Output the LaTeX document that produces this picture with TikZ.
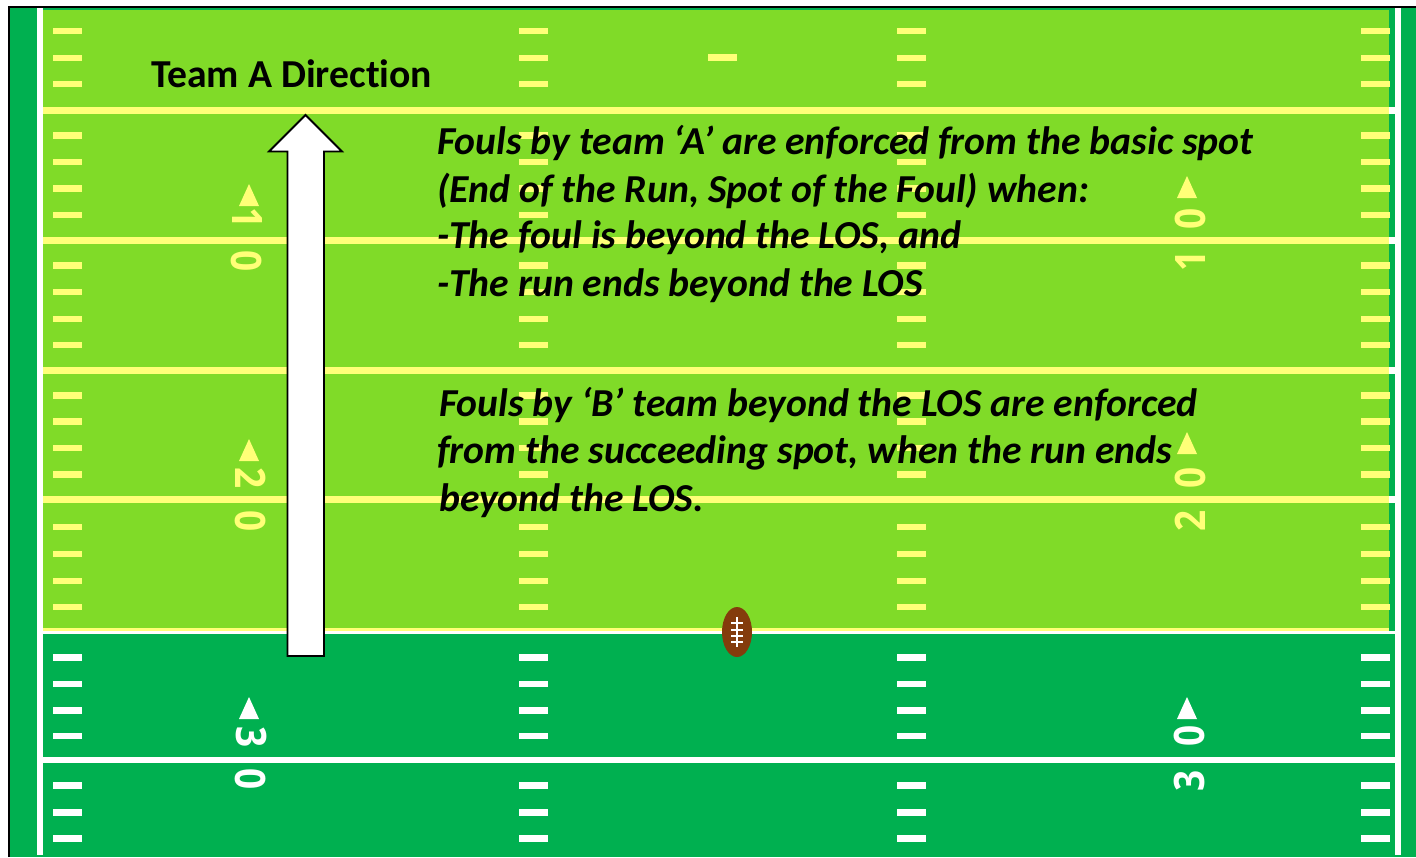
\documentclass[tikz,border=0pt]{standalone}
\usepackage{fontspec}
\setmainfont[Ligatures=NoCommon]{Carlito}
\newfontfamily\numfont{Open Sans}
\definecolor{darkfield}{HTML}{00B050}
\definecolor{lightfield}{HTML}{80DB28}
\definecolor{lineyellow}{HTML}{FFFF78}
\definecolor{ballbrown}{HTML}{843C0C}
\newcommand{\yd}[1]{\scalebox{.88}[1]{\numfont\bfseries\fontsize{42}{42}\selectfont #1}}
\tikzset{
  fieldnote/.style={anchor=west,inner sep=0pt,font=\fontsize{39.65}{40}\selectfont\bfseries\itshape,text=black},
  yardnum/.style={inner sep=0pt},
}
\begin{document}
\begin{tikzpicture}[x=1pt,y=-1pt]
\useasboundingbox (0,0) rectangle (1416,857);
\fill[white] (0,0) rectangle (1416,857);
\fill[darkfield] (8.5,7) rectangle (1416,857);
\fill[lightfield] (42.5,9.5) rectangle (1389.3,628);
% yard lines
\foreach \y in {110.3,240.3,370.3,499.3}{
  \fill[white] (1389,\y-3.6) rectangle (1396,\y+3.6);
  \fill[lineyellow] (42.5,\y-3.6) rectangle (1389.3,\y+3.6);
}
\fill[lineyellow] (42.5,627.5) rectangle (1389.3,631);
\fill[white] (42.5,630.5) rectangle (1396,634);
\fill[white] (42.5,756.5) rectangle (1396,763);
% sidelines
\fill[white] (36.7,7) rectangle (43,855);
\fill[white] (1395,7) rectangle (1401.3,855);
\draw[black,line width=2pt] (8.5,857) -- (8.5,7) -- (1416,7);
% hash marks
\foreach \x/\w in {53/28.5,519/28.5,897/28.5,1361/28.5}{
  \foreach \y in {31,58,84,135.5,162,188.5,215,265.5,292,319,345,395.5,421.5,448,474.5,527,554,581,607}{
    \fill[lineyellow] (\x,\y-3.3) rectangle +(\w,6.6);
  }
  \foreach \y in {657.5,684,710.5,736,785.5,812.5,838.5}{
    \fill[white] (\x,\y-3.3) rectangle +(\w,6.6);
  }
}
\fill[lineyellow] (708,54) rectangle (737,60.5);
% yard numbers
\node[yardnum,text=lineyellow,rotate=-90] (la) at (247,218) {\yd{1}};
\node[yardnum,text=lineyellow,rotate=-90] (lb) at (247,261) {\yd{0}};
\node[yardnum,text=lineyellow,rotate=-90] (lc) at (251,478) {\yd{2}};
\node[yardnum,text=lineyellow,rotate=-90] (ld) at (251,521) {\yd{0}};
\node[yardnum,text=white,rotate=-90] (le) at (251,737) {\yd{3}};
\node[yardnum,text=white,rotate=-90] (lf) at (251,779) {\yd{0}};
\node[yardnum,text=lineyellow,rotate=90] (ra) at (1190,219) {\yd{0}};
\node[yardnum,text=lineyellow,rotate=90] (rb) at (1190,261) {\yd{1}};
\node[yardnum,text=lineyellow,rotate=90] (rc) at (1190,478) {\yd{0}};
\node[yardnum,text=lineyellow,rotate=90] (rd) at (1190,521) {\yd{2}};
\node[yardnum,text=white,rotate=90] (re) at (1189,736) {\yd{0}};
\node[yardnum,text=white,rotate=90] (rf) at (1189,781) {\yd{3}};
% triangles
\fill[lineyellow] (249,184) -- (259,206) -- (239,206) -- cycle;
\fill[lineyellow] (249,439) -- (259,461) -- (239,461) -- cycle;
\fill[white] (249,697) -- (259,719) -- (239,719) -- cycle;
\fill[lineyellow] (1187,176) -- (1197,198) -- (1177,198) -- cycle;
\fill[lineyellow] (1187,432) -- (1197,454) -- (1177,454) -- cycle;
\fill[white] (1187,697) -- (1197,719) -- (1177,719) -- cycle;
% arrow
\draw[black,line width=1.8pt,fill=white,line join=miter] (305.5,115) -- (342,151.5) -- (324,151.5) -- (324,656) -- (287.5,656) -- (287.5,151.5) -- (269,151.5) -- cycle;
% ball
\fill[ballbrown] (737,632) ellipse [x radius=15,y radius=25];
\draw[white,line width=1.3pt] (737,617) -- (737,647);
\foreach \y in {623,630,636,642}{\draw[white,line width=1.3pt] (731,\y) -- (743,\y);}
% text
\node[inner sep=0pt,anchor=west,font=\fontsize{39.65}{40}\selectfont\bfseries] (dir) at (151,74) {Team A Direction};
\node[fieldnote] (a1) at (437,143) {Fouls by team ‘A’ are enforced from the basic spot};
\node[fieldnote] (a2) at (437,190.5) {(End of the Run, Spot of the Foul) when:};
\node[fieldnote] (a3) at (437,238) {-The foul is beyond the LOS, and};
\node[fieldnote] (a4) at (437,285.5) {-The run ends beyond the LOS};
\node[fieldnote] (b1) at (439,405) {Fouls by ‘B’ team beyond the LOS are enforced};
\node[fieldnote] (b2) at (437,453) {from the succeeding spot, when the run ends};
\node[fieldnote] (b3) at (439,500.5) {beyond the LOS.};
\end{tikzpicture}
\end{document}
